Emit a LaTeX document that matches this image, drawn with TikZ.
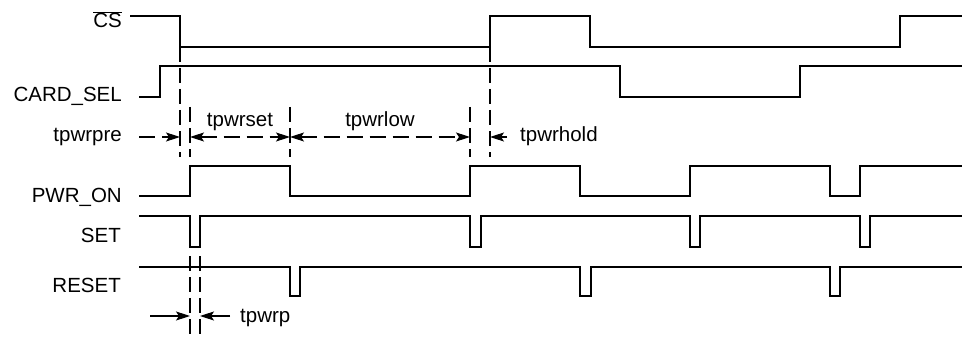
\documentclass[tikz,border=0pt]{standalone}
\usepackage{fontspec}
\setmainfont{Liberation Sans}
\usetikzlibrary{arrows.meta}
\begin{document}
\begin{tikzpicture}[x=1pt,y=-1pt,
    line join=miter, line cap=butt,
    font=\fontsize{20.5}{24}\selectfont,
    sig/.style={line width=1.8pt},
    guide/.style={line width=1.1pt,dash pattern=on 15pt off 6pt},
    dim/.style={line width=1.1pt,dash pattern=on 16pt off 7pt},
    arr/.style={-{Stealth[length=14pt,width=9pt,inset=3pt]}},
    darr/.style={{Stealth[length=14pt,width=9pt,inset=3pt]}-{Stealth[length=14pt,width=9pt,inset=3pt]}},
    lbl/.style={anchor=base east,inner sep=0pt}]
    \useasboundingbox (0,0) rectangle (962,337);
    % Tên tín hiệu
    \node[lbl] (cs) at (122,28) {$\overline{\mbox{CS}}$};
    \node[lbl] (cardsel) at (122,102) {CARD\_SEL};
    \node[lbl] (pre) at (122,142) {tpwrpre};
    \node[lbl] (pwron) at (122,202) {PWR\_ON};
    \node[lbl] (set) at (121,242) {SET};
    \node[lbl] (reset) at (121,292) {RESET};
    % Dạng sóng
    \draw[sig] (130,16) -| (180,47) -| (490,16) -| (590,47) -| (900,16) -- (962,16);
    \draw[sig] (139,97) -| (160,66) -| (620,97) -| (800,66) -- (962,66);
    \draw[sig] (139,196) -| (190,166) -| (290,196) -| (470,166) -| (580,196)
        -| (690,166) -| (830,196) -| (860,166) -- (962,166);
    \draw[sig] (139,216) -| (190,247) -| (200,216) -| (470,247) -| (481,216)
        -| (690,247) -| (700,216) -| (860,247) -| (870,216) -- (962,216);
    \draw[sig] (139,267) -| (290,296) -| (300,267) -| (580,296) -| (591,267)
        -| (830,296) -| (840,267) -- (962,267);
    % Đường gióng
    \draw[guide] (180,47) -- (180,157);
    \draw[guide] (490,47) -- (490,157);
    \foreach \xg in {190,290,470} \draw[guide] (\xg,107) -- (\xg,157);
    \foreach \xg in {190,200} \draw[guide] (\xg,256) -- (\xg,337);
    % Khoảng thời gian
    \coordinate (a0) at (139,137); \coordinate (a1) at (180,137);
    \coordinate (a2) at (190,137); \coordinate (a3) at (290,137);
    \coordinate (a4) at (470,137); \coordinate (a5) at (490,137);
    \coordinate (a6) at (507,137);
    \draw[dim,arr] (a0) -- (a1);
    \draw[dim,darr] (a2) -- (a3) node[midway,above=6pt,inner sep=0pt] (tset) {tpwrset};
    \draw[dim,darr] (a3) -- (a4) node[midway,above=6pt,inner sep=0pt] (tlow) {tpwrlow};
    \draw[line width=1.1pt,arr] (a6) -- (a5);
    \node[anchor=base west,inner sep=0pt] (thold) at (520,142) {tpwrhold};
    \coordinate (b0) at (150,316); \coordinate (b1) at (190,316);
    \coordinate (b2) at (200,316); \coordinate (b3) at (230,316);
    \draw[line width=1.1pt,arr] (b0) -- (b1);
    \draw[line width=1.1pt,arr] (b3) -- (b2);
    \node[anchor=base west,inner sep=0pt] (tp) at (240,322) {tpwrp};
\end{tikzpicture}
\end{document}
